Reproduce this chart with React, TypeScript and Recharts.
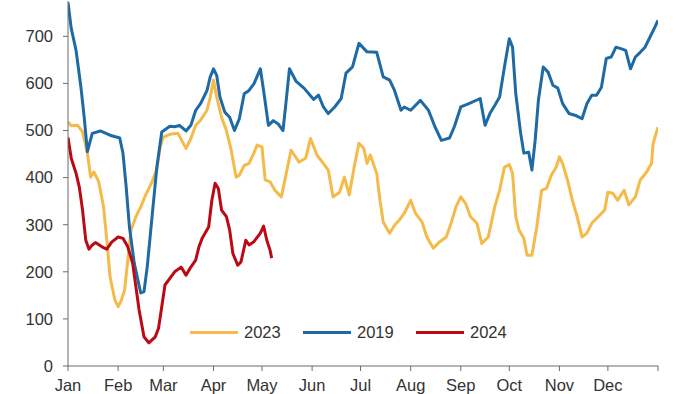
import React from 'react';
import { LineChart, Line, XAxis, YAxis, Legend } from 'recharts';

// Day-of-year positions (Jan 1 = 0) and values
const DAYS_2019 = [0, 2, 5, 8, 10, 12, 15, 20, 26, 32, 34, 36, 38, 41, 45, 47, 49, 52, 55, 58, 63, 66, 69, 73, 76, 79, 82, 86, 88, 90, 92, 94, 97, 100, 103, 106, 109, 112, 115, 119, 121, 124, 127, 130, 133, 135, 137, 141, 146, 152, 155, 158, 161, 165, 169, 172, 176, 180, 185, 191, 195, 199, 202, 206, 208, 212, 218, 223, 227, 231, 236, 239, 243, 248, 255, 258, 261, 264, 267, 270, 273, 275, 277, 280, 282, 285, 287, 289, 291, 294, 297, 300, 303, 306, 310, 314, 318, 321, 324, 327, 330, 333, 336, 339, 342, 345, 348, 351, 354, 357, 360, 363, 365];
const VALS_2019 = [772, 717, 670, 592, 529, 455, 494, 499, 490, 484, 452, 380, 295, 218, 155, 158, 210, 317, 423, 497, 509, 508, 511, 499, 511, 543, 557, 585, 614, 631, 617, 571, 539, 528, 500, 525, 578, 585, 599, 631, 585, 511, 521, 514, 500, 564, 631, 605, 590, 566, 575, 550, 536, 550, 568, 622, 635, 685, 667, 666, 614, 607, 585, 543, 550, 543, 564, 543, 508, 479, 484, 508, 550, 557, 568, 511, 536, 553, 571, 635, 695, 677, 579, 495, 452, 454, 416, 479, 564, 635, 624, 596, 590, 557, 536, 532, 525, 557, 575, 575, 592, 653, 656, 677, 674, 670, 631, 656, 666, 677, 698, 719, 734];

const DAYS_2023 = [0, 2, 6, 9, 12, 14, 16, 19, 22, 24, 26, 29, 31, 33, 35, 37, 39, 42, 45, 48, 52, 55, 57, 59, 63, 68, 73, 76, 79, 82, 86, 88, 90, 92, 95, 98, 101, 104, 106, 109, 112, 115, 117, 120, 122, 125, 128, 132, 135, 138, 140, 143, 147, 150, 154, 158, 161, 164, 168, 171, 174, 177, 180, 183, 185, 187, 191, 193, 195, 199, 202, 205, 208, 212, 215, 219, 222, 226, 230, 234, 237, 240, 243, 246, 249, 253, 256, 260, 264, 267, 270, 273, 275, 277, 279, 282, 284, 287, 290, 293, 296, 299, 302, 304, 306, 309, 312, 315, 318, 321, 324, 328, 332, 334, 337, 340, 344, 347, 351, 354, 358, 361, 362, 365];
const VALS_2023 = [518, 510, 511, 497, 452, 401, 412, 391, 338, 268, 190, 140, 126, 140, 161, 225, 289, 317, 338, 363, 391, 419, 465, 486, 492, 494, 462, 483, 511, 522, 543, 571, 607, 571, 528, 500, 458, 401, 405, 426, 430, 452, 469, 465, 395, 391, 373, 359, 409, 458, 448, 433, 441, 483, 448, 430, 416, 359, 369, 401, 363, 422, 473, 462, 430, 448, 409, 352, 306, 282, 299, 310, 324, 352, 324, 306, 274, 250, 264, 274, 303, 338, 359, 345, 317, 303, 260, 274, 338, 373, 422, 428, 409, 317, 289, 271, 235, 235, 295, 373, 377, 405, 422, 444, 430, 395, 352, 317, 274, 282, 303, 317, 331, 369, 367, 352, 373, 342, 359, 395, 412, 430, 473, 507];

const DAYS_2024 = [0, 2, 5, 7, 9, 11, 13, 15, 17, 21, 24, 27, 31, 34, 37, 40, 42, 44, 47, 50, 54, 56, 58, 60, 63, 66, 70, 73, 76, 79, 81, 83, 87, 89, 91, 93, 95, 98, 100, 102, 105, 107, 110, 112, 115, 119, 121, 123, 125, 126];
const VALS_2024 = [485, 441, 409, 380, 331, 267, 248, 257, 262, 253, 248, 263, 274, 271, 253, 218, 168, 119, 62, 49, 62, 80, 126, 172, 186, 200, 210, 193, 210, 225, 253, 271, 295, 352, 388, 377, 331, 317, 289, 239, 214, 221, 267, 257, 264, 282, 297, 267, 246, 229];

const MONTH_TICKS = [0, 31, 59, 90, 120, 151, 181, 212, 243, 273, 304, 334, 365];
const MONTH_LABELS = ['Jan', 'Feb', 'Mar', 'Apr', 'May', 'Jun', 'Jul', 'Aug', 'Sep', 'Oct', 'Nov', 'Dec', ''];
const Y_TICKS = [0, 100, 200, 300, 400, 500, 600, 700];

const toPoints = (days: number[], vals: number[]) => days.map((d, i) => ({ day: d, value: vals[i] }));

const SERIES = [
  { name: '2023', color: '#F4BA4A', data: toPoints(DAYS_2023, VALS_2023) },
  { name: '2019', color: '#1E6AA4', data: toPoints(DAYS_2019, VALS_2019) },
  { name: '2024', color: '#BC0A14', data: toPoints(DAYS_2024, VALS_2024) },
];

const FONT = '"Liberation Sans", Arial, sans-serif';
const TEXT = '#333333';
const AXIS = '#6b6b6b';

function renderLegend() {
  return (
    <div style={{ display: 'flex', alignItems: 'center', fontFamily: FONT, fontSize: 16.5, color: TEXT }}>
      {SERIES.map((s) => (
        <div key={s.name} style={{ display: 'flex', alignItems: 'center', marginRight: 22 }}>
          <span style={{ display: 'inline-block', width: 48, height: 3, background: s.color, marginRight: 6 }} />
          <span style={{ width: 37 }}>{s.name}</span>
        </div>
      ))}
    </div>
  );
}

export default function App() {
  return (
    <div style={{ position: 'absolute', left: 0, top: 0, width: 700, height: 394, background: '#fff' }}>
      <LineChart width={700} height={394} margin={{ top: 1, right: 42, bottom: 0, left: 0 }}>
        <XAxis
          type="number"
          dataKey="day"
          domain={[0, 365]}
          ticks={MONTH_TICKS}
          tickFormatter={(v) => MONTH_LABELS[MONTH_TICKS.indexOf(Number(v))] ?? ''}
          interval={0}
          height={28}
          tickSize={5}
          tickMargin={8}
          stroke={AXIS}
          tick={{ fill: TEXT, fontSize: 16.5, fontFamily: FONT }}
          allowDataOverflow
        />
        <YAxis
          type="number"
          domain={[0, 775]}
          ticks={Y_TICKS}
          interval={0}
          width={68}
          tickSize={5}
          tickMargin={10}
          stroke={AXIS}
          tick={{ fill: TEXT, fontSize: 16.5, fontFamily: FONT }}
          allowDataOverflow
        />
        <Legend
          layout="horizontal"
          verticalAlign="middle"
          align="center"
          content={renderLegend}
          wrapperStyle={{ left: 190, top: 323, width: 360, height: 20 }}
        />
        {SERIES.map((s) => (
          <Line
            key={s.name}
            data={s.data}
            dataKey="value"
            name={s.name}
            type="linear"
            stroke={s.color}
            strokeWidth={3}
            strokeLinejoin="round"
            dot={false}
            isAnimationActive={false}
          />
        ))}
      </LineChart>
    </div>
  );
}
